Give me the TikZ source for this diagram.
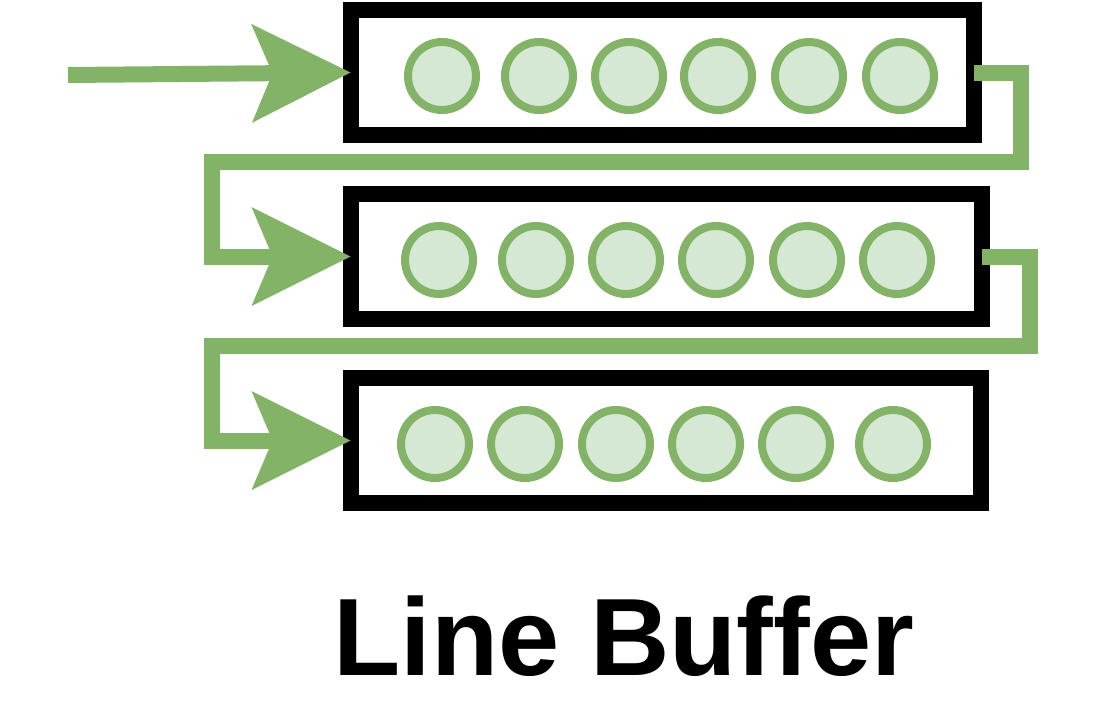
\documentclass[tikz,border=0pt]{standalone}
\usepackage{fontspec}
\setmainfont{Liberation Sans}
\usetikzlibrary{arrows.meta}
\definecolor{pixelgreen}{HTML}{82B366}
\definecolor{pixelfill}{HTML}{D5E8D4}
\begin{document}
\begin{tikzpicture}
[x=1pt,y=-1pt,
  rowdecorate/.style={shape=rectangle,draw=black,line width=16pt,inner sep=0pt,
    outer sep=0pt,minimum height=125pt},%
  pixeldecorate/.style={shape=circle,draw=pixelgreen,fill=pixelfill,line width=8pt,
    inner sep=0pt,minimum size=68pt},%
  flowline/.style={draw=pixelgreen,line width=16pt,
    -{Stealth[length=99pt,width=99pt,inset=21pt,line width=0pt]}}]
\useasboundingbox (0,0) rectangle (1096,720);
%% line buffer rows
\foreach \rowname/\x/\y/\width in {1/662.25/72.5/623.5, 2/666.25/256.5/631.5,
  3/665.75/440.5/630.5} {
  \node (row\rowname) at (\x,\y) [rowdecorate,minimum width=\width pt] {};
}
%% pixels
\foreach \rowname/\y/\xlist in {1/76/{442,539,629,718,809,900},
  2/260/{439,536,626,716,807,897}, 3/444/{435,525,616,706,796,893}} {
  \foreach \x [count=\i] in \xlist {
    \node (c\rowname\i) at (\x,\y) [pixeldecorate] {};
  }
}
%% data flow
\coordinate (input) at (68,75);
\draw[flowline] (input) -- (row1.west);
\draw[flowline] (row1.east) -- ++(47,0) -- ++(0,89.5)
  -| ([xshift=-138.5pt]row2.west) -- (row2.west);
\draw[flowline] (row2.east) -- ++(48,0) -- ++(0,89.5)
  -| ([xshift=-138.5pt]row3.west) -- (row3.west);
%% caption
\node (caption) at (624,675) [anchor=base,inner sep=0pt]
  {\fontsize{110}{120}\selectfont\bfseries Line Buffer};
\end{tikzpicture}
\end{document}
